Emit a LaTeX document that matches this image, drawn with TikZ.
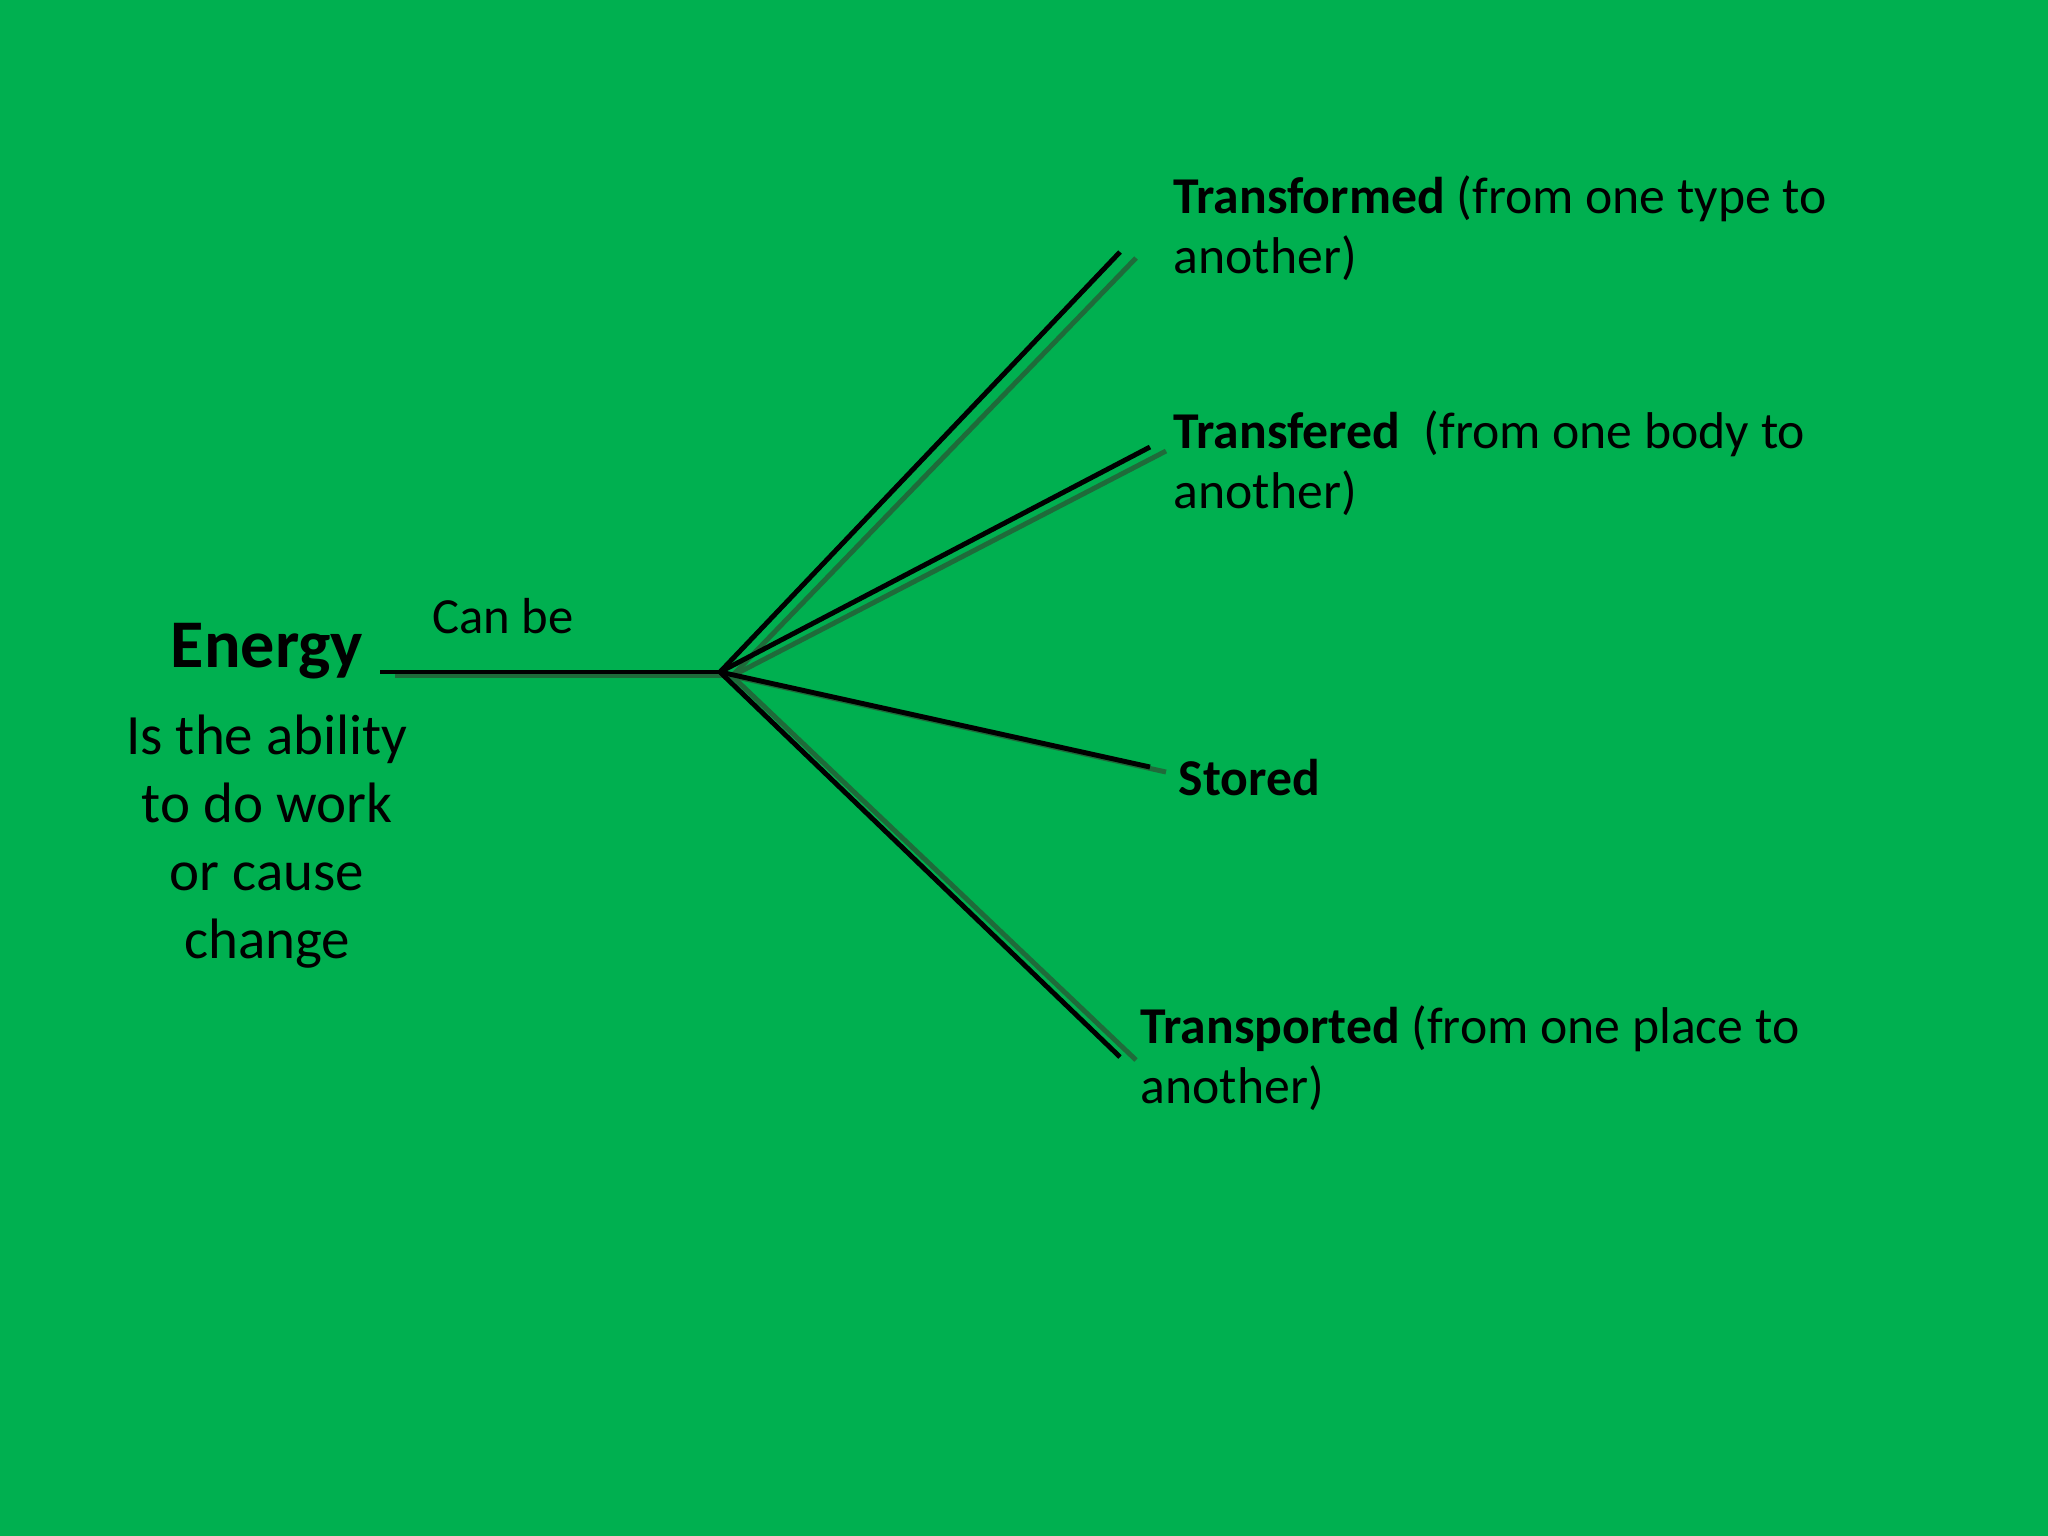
\documentclass[tikz,border=0pt]{standalone}
\usepackage{fontspec}
\setmainfont{Carlito}
\definecolor{bg}{HTML}{00B050}
\definecolor{shadow}{HTML}{1F6B3A}
\begin{document}
\begin{tikzpicture}[x=0.01cm,y=-0.01cm,
  blk/.style={line width=1.4pt,black},
  shd/.style={line width=1.4pt,shadow},
  lbl/.style={font=\fontsize{14.7}{17}\selectfont,align=left,inner sep=0pt,anchor=base west},
]
\fill[bg] (0,0) rectangle (2048,1536);
\useasboundingbox (0,0) rectangle (2048,1536);
\coordinate (hub) at (720,672);
\coordinate (hubs) at (732,676);
\coordinate (hs) at (380,672);
\coordinate (hss) at (395,676);
\coordinate (e1) at (1120,252); \coordinate (s1) at (1136,258);
\coordinate (e2) at (1150,447); \coordinate (s2) at (1166,451);
\coordinate (e3) at (1150,767); \coordinate (s3) at (1166,772);
\coordinate (e4) at (1120,1057); \coordinate (s4) at (1136,1060);
\foreach \s in {s1,s2,s3,s4} \draw[shd] (hubs) -- (\s);
\draw[shd] (hss) -- (hubs);
\foreach \e in {e1,e2,e3,e4} \draw[blk] (hub) -- (\e);
\draw[blk] (hs) -- (hub);
\node[font=\fontsize{19.4}{22}\selectfont\bfseries,inner sep=0pt,anchor=base] (energy) at (267,667) {Energy};
\node[font=\fontsize{14.4}{17}\selectfont,inner sep=0pt,anchor=base west] (canbe) at (432,633) {Can be};
\node[font=\fontsize{16.2}{19.4}\selectfont,align=center,inner sep=0pt,anchor=north] (def) at (267,714) {Is the ability\\to do work\\or cause\\change};
\node[lbl] (t1) at (1173,273) {\textbf{Transformed} (from one type to\\another)};
\node[lbl] (t2) at (1173,508) {\textbf{Transfered}\ \ (from one body to\\another)};
\node[lbl] (t3) at (1178,795) {\textbf{Stored}};
\node[lbl] (t4) at (1140,1103) {\textbf{Transported} (from one place to\\another)};
\end{tikzpicture}
\end{document}
